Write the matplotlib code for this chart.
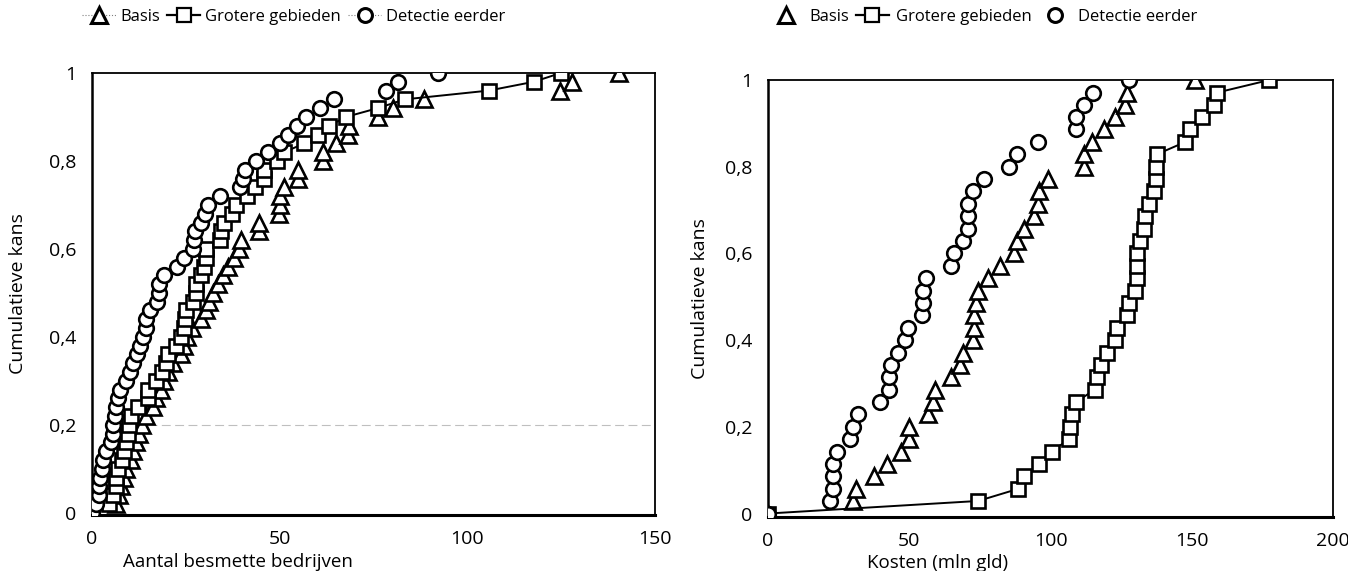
import matplotlib.pyplot as plt
from matplotlib.lines import Line2D

plt.rcParams['font.family'] = ['Open Sans', 'DejaVu Sans']

# cumulatieve kans (links 50 runs, rechts 35 runs)
kans_links = [0, 0.02, 0.04, 0.06, 0.08, 0.10, 0.12, 0.14, 0.16, 0.18, 0.20,
              0.22, 0.24, 0.26, 0.28, 0.30, 0.32, 0.34, 0.36, 0.38, 0.40,
              0.42, 0.44, 0.46, 0.48, 0.50, 0.52, 0.54, 0.56, 0.58, 0.60,
              0.62, 0.64, 0.66, 0.68, 0.70, 0.72, 0.74, 0.76, 0.78, 0.80,
              0.82, 0.84, 0.86, 0.88, 0.90, 0.92, 0.94, 0.96, 0.98, 1.00]
kans_rechts = [0, 0.029, 0.057, 0.086, 0.114, 0.143, 0.171, 0.2, 0.229, 0.257,
               0.286, 0.314, 0.343, 0.371, 0.4, 0.429, 0.457, 0.486, 0.514,
               0.543, 0.571, 0.6, 0.629, 0.657, 0.686, 0.714, 0.743, 0.771,
               0.8, 0.829, 0.857, 0.886, 0.914, 0.943, 0.971, 1.0]

# aantal besmette bedrijven
basis_l = [0, 6.4, 7.2, 7.7, 8.5, 9.1, 10.3, 10.8, 11.7, 12.5, 13.3, 14.4, 16.2,
           17.0, 18.3, 19.2, 20.2, 21.5, 23.6, 24.6, 25.4, 26.6, 29.1, 30.5,
           31.1, 32.2, 33.5, 34.9, 36.2, 37.8, 39.1, 39.7, 44.4, 44.4, 49.7,
           50.2, 50.2, 51.1, 54.9, 54.9, 61.5, 61.5, 65.0, 68.2, 68.5, 76.1,
           80.2, 88.4, 124.6, 127.8, 140.3]
grotere_l = [0, 4.4, 5.5, 6.4, 6.4, 6.8, 7.9, 8.6, 9.1, 9.5, 9.9, 10.3, 12.3,
             14.8, 14.8, 17.0, 18.7, 19.7, 20.3, 22.4, 23.6, 24.6, 24.8, 25.0,
             26.8, 27.7, 27.7, 29.1, 29.8, 30.3, 30.3, 34.0, 34.4, 35.2, 37.4,
             38.3, 41.4, 43.3, 45.8, 45.8, 49.3, 51.2, 56.6, 60.3, 63.2, 67.6,
             76.1, 83.3, 105.7, 117.7, 124.9]
detectie_l = [0, 1.1, 1.9, 1.9, 2.2, 2.7, 3.0, 3.7, 5.0, 5.6, 5.6, 6.1, 6.4,
              6.9, 7.4, 9.1, 10.1, 11.0, 12.0, 12.8, 13.6, 14.3, 14.3, 15.4,
              17.2, 17.8, 17.8, 19.2, 22.7, 24.5, 27.0, 27.2, 27.4, 29.1, 30.0,
              30.9, 34.0, 39.4, 40.2, 40.8, 43.8, 46.8, 50.2, 52.2, 54.6, 57.1,
              60.7, 64.4, 78.3, 81.5, 92.3]

# kosten (mln gld)
basis_r = [0, 30, 31, 37.4, 42, 47, 50, 50, 56.6, 58.4, 59, 64.8, 68, 69, 72.6,
           73, 73, 73.7, 74.4, 78, 82, 87, 88, 90.7, 94, 95.7, 96, 99, 111.7,
           111.7, 114.6, 118.8, 122.8, 126.3, 127, 151]
grotere_r = [0, 74.4, 88.6, 90.7, 96, 100.4, 106.4, 107, 107.5, 109, 115.7,
             116.4, 118, 120, 122.8, 123.5, 127, 127.8, 130, 130.6, 130.6,
             130.6, 131.8, 133, 133.5, 134.8, 136.6, 137.4, 137.4, 137.8,
             147.7, 149.5, 153.7, 158, 159, 177.5]
detectie_r = [0, 22, 23, 23, 23, 24.5, 29, 30, 32, 39.5, 42.7, 42.7, 43.4, 46,
              48.4, 49.5, 54.4, 55, 55, 56, 64.8, 65.8, 69, 70.8, 70.8, 70.8,
              72.6, 76.5, 85.4, 88.3, 95.7, 109, 109, 112, 115, 127.8]

namen = ['Basis', 'Grotere gebieden', 'Detectie eerder']
yticks = [0, 0.2, 0.4, 0.6, 0.8, 1]
ylabels = ['0', '0,2', '0,4', '0,6', '0,8', '1']
xticks_l = [0, 50, 100, 150]
xticks_r = [0, 50, 100, 150, 200]

fig = plt.figure(figsize=(13.48, 5.71), dpi=100)
ax1 = fig.add_axes([92/1348, 1-515/571, 563/1348, 442/571])
ax2 = fig.add_axes([768/1348, 1-517/571, 565/1348, 437/571])

mk = dict(mfc='white', mec='black', mew=1.9, color='black')

# links
ax1.axhline(0.2, xmin=0.1, color='0.75', lw=0.8, ls=(0, (8, 4)), zorder=1)
ax1.plot(basis_l, kans_links, '^', ms=11, ls='none', **mk, zorder=3)
ax1.plot(grotere_l, kans_links, 's', ms=10, ls='-', lw=1.4, **mk, zorder=4)
ax1.plot(detectie_l, kans_links, 'o', ms=10.5, ls='none', **mk, zorder=5)
ax1.set_xlim(0, 150)
ax1.set_ylim(-0.005, 1.0)

# rechts
ax2.plot(basis_r, kans_rechts, '^', ms=11, ls='none', **mk, zorder=3)
ax2.plot(grotere_r, kans_rechts, 's', ms=10, ls='-', lw=1.4, **mk, zorder=4)
ax2.plot(detectie_r, kans_rechts, 'o', ms=10.5, ls='none', **mk, zorder=5)
ax2.set_xlim(0, 200)
ax2.set_ylim(-0.008, 1.0)

for ax, xt, xlab, xpos in [(ax1, xticks_l, 'Aantal besmette bedrijven', 0.26),
                           (ax2, xticks_r, 'Kosten (mln gld)', 0.30)]:
    ax.set_xticks(xt)
    ax.set_xticklabels([str(v) for v in xt])
    ax.set_yticks(yticks)
    ax.set_yticklabels(ylabels)
    ax.tick_params(length=0, labelsize=14, pad=11)
    ax.tick_params(axis='x', pad=11)
    for s in ax.spines.values():
        s.set_linewidth(1.3)
    ax.spines['bottom'].set_linewidth(2.2)
    ax.spines['left'].set_linewidth(1.8)
    ax.set_xlabel(xlab, fontsize=13.5)
    ax.xaxis.set_label_coords(xpos, -0.085)
    ax.set_ylabel('Cumulatieve kans', fontsize=14)

ax1.yaxis.set_label_coords(-0.115, 0.5)
ax2.yaxis.set_label_coords(-0.105, 0.5)

# legenda's
h_l = [Line2D([], [], marker='^', ms=11, ls=':', lw=0.8, color='0.5', mfc='white', mec='black', mew=2.2),
       Line2D([], [], marker='s', ms=10, ls='-', lw=1.6, color='black', mfc='white', mec='black', mew=1.6),
       Line2D([], [], marker='o', ms=10, ls=':', lw=0.8, color='0.5', mfc='white', mec='black', mew=2.2)]
h_r = [Line2D([], [], marker='^', ms=11, ls='none', mfc='white', mec='black', mew=2.2),
       Line2D([], [], marker='s', ms=10, ls='-', lw=1.6, color='black', mfc='white', mec='black', mew=1.6),
       Line2D([], [], marker='o', ms=10, ls='none', mfc='white', mec='black', mew=2.2)]

fig.legend(h_l, namen, ncol=3, loc='center left', bbox_to_anchor=(74/1348, 1-17/571),
           frameon=False, fontsize=12, handlelength=2.0, handletextpad=0.3,
           columnspacing=0.4, numpoints=1, borderpad=0)
fig.legend(h_r, namen, ncol=3, loc='center left', bbox_to_anchor=(761/1348, 1-17/571),
           frameon=False, fontsize=12, handlelength=2.0, handletextpad=0.4,
           columnspacing=0.4, numpoints=1, borderpad=0)

fig.savefig('out.png', dpi=100)
